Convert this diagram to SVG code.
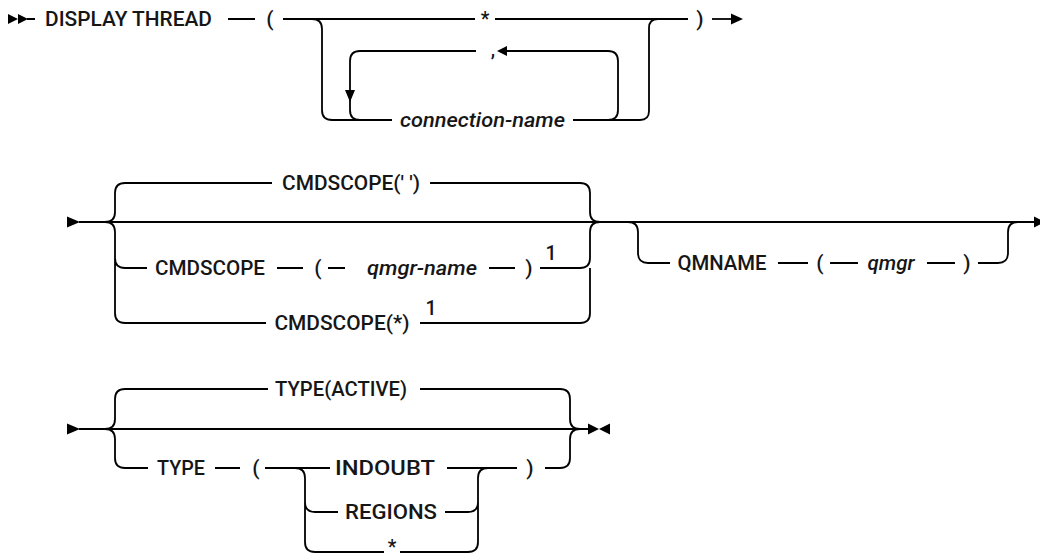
<svg xmlns="http://www.w3.org/2000/svg" width="1040" height="559" viewBox="0 0 1040 559">
<style>
.t{font-family:Roboto,"Liberation Sans",Arial,sans-serif;font-size:19.5px;font-weight:500;fill:#161616;text-anchor:middle}
.i{font-style:italic}
.s{font-size:19.5px}
.p{font-size:21px}
.ln{fill:none;stroke:#000;stroke-width:1.8}
.ah{fill:#000;stroke:none}
</style>
<rect width="1040" height="559" fill="#fff"/>
<g id="connectors">
  <!-- row 1 -->
  <polygon class="ah" points="8,14 18,19 8,24"/>
  <polygon class="ah" points="18,14 28,19 18,24"/>
  <path class="ln" d="M27,19 H35 M228,19 H255 M283,19 H475 M495,19 H688"/>
  <path class="ln" d="M312,19 Q322,19 322,29 V110 Q322,120 332,120 H392 M573,120 H640 Q649,120 649,111 V28 Q649,19 658,19"/>
  <path class="ln" d="M608,120 Q618,120 618,110 V61 Q618,51 608,51 H506 M476,51 H360 Q350,51 350,61 V110 Q350,120 360,120"/>
  <polygon class="ah" points="345,90 355,90 350,102"/>
  <polygon class="ah" points="507,46 507,56 497,51"/>
  <path class="ln" d="M712,19 H732"/>
  <polygon class="ah" points="731,13.5 743,19 731,24.5"/>
  <!-- row 2 -->
  <polygon class="ah" points="67,216.5 80,222 67,227.5"/>
  <path class="ln" d="M79,222 H1034"/>
  <polygon class="ah" points="1034,216.5 1045,222 1034,227.5"/>
  <path class="ln" d="M105,222 Q115,222 115,212 V193 Q115,183 125,183 H272 M430,183 H580 Q590,183 590,193 V212 Q590,222 600,222"/>
  <path class="ln" d="M105,222 Q115,222 115,232 V313 Q115,323 125,323 H266 M115,258 Q115,268 125,268 H147"/>
  <path class="ln" d="M277,268 H303 M328,268 H345 M489,268 H515 M540,268 H580 Q590,268 590,258 V232 Q590,222 600,222"/>
  <path class="ln" d="M420,323 H580 Q590,323 590,313 V268"/>
  <path class="ln" d="M628,222 Q638,222 638,232 V253 Q638,263 648,263 H670 M778,263 H808 M830,263 H858 M927,263 H955 M978,263 H998 Q1008,263 1008,253 V232 Q1008,222 1018,222"/>
  <!-- row 3 -->
  <polygon class="ah" points="67,423.5 80,429 67,434.5"/>
  <path class="ln" d="M79,429 H589"/>
  <polygon class="ah" points="588,423.5 599,429 588,434.5"/>
  <polygon class="ah" points="610,423.5 599,429 610,434.5"/>
  <path class="ln" d="M105,429 Q115,429 115,419 V399 Q115,389 125,389 H268 M420,389 H560 Q570,389 570,399 V419 Q570,429 580,429"/>
  <path class="ln" d="M105,429 Q115,429 115,439 V458 Q115,468 125,468 H148 M215,468 H240 M265,468 H330 M447,468 H517 M545,468 H560 Q570,468 570,458 V439 Q570,429 580,429"/>
  <path class="ln" d="M295,468 Q305,468 305,478 V502 Q305,512 315,512 H338 M305,502 V542 Q305,552 315,552 H384 M400,552 H468 Q478,552 478,542 V478 Q478,468 488,468 M445,512 H468 Q478,512 478,502"/>
</g>
<g id="n-display"><text class="t" x="128.5" y="26" textLength="167" lengthAdjust="spacingAndGlyphs">DISPLAY THREAD</text></g>
<g id="n-lparen1"><text class="t p" x="270" y="26">(</text></g>
<g id="n-star1"><text class="t" x="485" y="26">*</text></g>
<g id="n-comma"><text class="t" x="493" y="56">,</text></g>
<g id="n-connection"><text class="t i" x="482.5" y="127" textLength="165" lengthAdjust="spacingAndGlyphs">connection-name</text></g>
<g id="n-rparen1"><text class="t p" x="700" y="26">)</text></g>
<g id="n-cmdscope-blank"><text class="t" x="351" y="190" textLength="138" lengthAdjust="spacingAndGlyphs">CMDSCOPE(' ')</text></g>
<g id="n-cmdscope"><text class="t" x="210" y="275" textLength="110" lengthAdjust="spacingAndGlyphs">CMDSCOPE</text></g>
<g id="n-lparen2"><text class="t p" x="318" y="275">(</text></g>
<g id="n-qmgrname"><text class="t i" x="422" y="275" textLength="110" lengthAdjust="spacingAndGlyphs">qmgr-name</text></g>
<g id="n-rparen2"><text class="t p" x="529" y="275">)</text></g>
<g id="n-note1a"><text class="t s" x="551" y="260">1</text></g>
<g id="n-cmdscope-star"><text class="t" x="342" y="330" textLength="135" lengthAdjust="spacingAndGlyphs">CMDSCOPE(*)</text></g>
<g id="n-note1b"><text class="t s" x="431" y="315">1</text></g>
<g id="n-qmname"><text class="t" x="722" y="270" textLength="89" lengthAdjust="spacingAndGlyphs">QMNAME</text></g>
<g id="n-lparen3"><text class="t p" x="820" y="270">(</text></g>
<g id="n-qmgr"><text class="t i" x="891" y="270" textLength="47" lengthAdjust="spacingAndGlyphs">qmgr</text></g>
<g id="n-rparen3"><text class="t p" x="967" y="270">)</text></g>
<g id="n-typeactive"><text class="t" x="341" y="396" textLength="132" lengthAdjust="spacingAndGlyphs">TYPE(ACTIVE)</text></g>
<g id="n-type"><text class="t" x="181" y="475" textLength="48" lengthAdjust="spacingAndGlyphs">TYPE</text></g>
<g id="n-lparen4"><text class="t p" x="256" y="475">(</text></g>
<g id="n-indoubt"><text class="t" x="385" y="475" textLength="100" lengthAdjust="spacingAndGlyphs">INDOUBT</text></g>
<g id="n-rparen4"><text class="t p" x="530" y="475">)</text></g>
<g id="n-regions"><text class="t" x="391" y="519" textLength="92" lengthAdjust="spacingAndGlyphs">REGIONS</text></g>
<g id="n-star2"><text class="t" x="392" y="554">*</text></g>
</svg>
